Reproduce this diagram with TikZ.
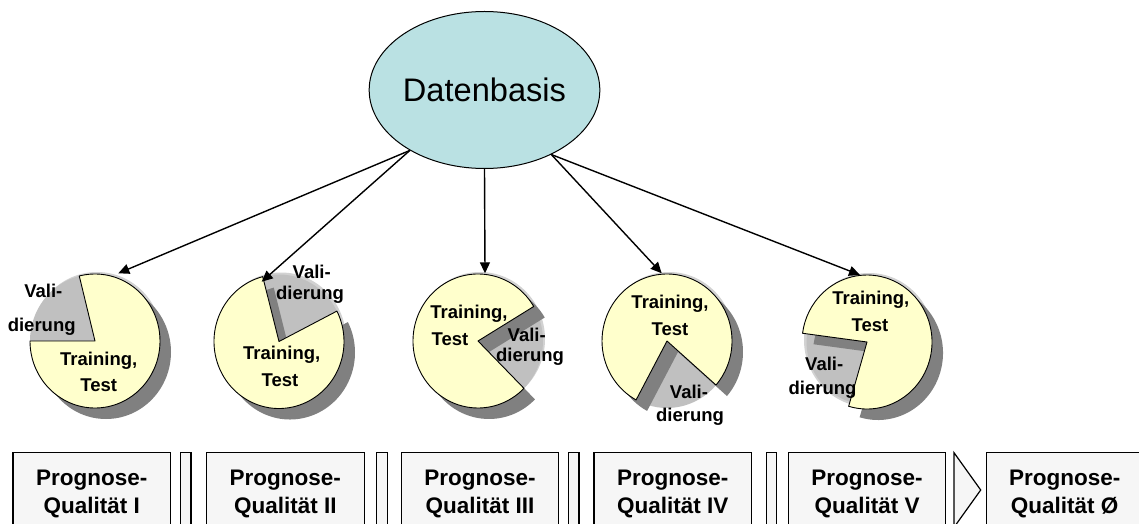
\documentclass[tikz,border=0pt]{standalone}
\usepackage{fontspec}
\setmainfont{Liberation Sans}
\usetikzlibrary{arrows.meta,shapes.geometric}

\definecolor{dbfill}{HTML}{BAE1E3}
\definecolor{trainfill}{HTML}{FFFFCC}
\definecolor{valfill}{HTML}{C0C0C0}
\definecolor{shadowgray}{HTML}{808080}
\definecolor{rimgray}{HTML}{D2D2D2}
\definecolor{boxfill}{HTML}{F6F6F6}

% Pie: #1,#2 centre; #3,#4 angles of the validation slice; #5 radius factor of that slice
\newcommand\drawpie[5]{%
  \begin{scope}[shift={(#1,#2)}]
    \fill[rimgray] (2,2) ellipse[x radius=65, y radius=67];
    \fill[valfill] (0,0) -- (#3:{65*#5} and {67*#5})
      arc[start angle=#3, end angle=#4, x radius={65*#5}, y radius={67*#5}] -- cycle;
    \fill[shadowgray] (11,-11) -- ++(#4:65 and 67)
      arc[start angle=#4, end angle={#3+360}, x radius=65, y radius=67] -- cycle;
    \filldraw[fill=trainfill, draw=black, line width=0.9pt, line join=round] (0,0) -- (#4:65 and 67)
      arc[start angle=#4, end angle={#3+360}, x radius=65, y radius=67] -- cycle;
  \end{scope}}

\tikzset{
  conn/.style={line width=1.4pt, -{Triangle[length=11pt,width=10pt]}},
  pietext/.style={font=\fontsize{18.5}{22}\selectfont\bfseries, inner sep=0pt},
  qbox/.style={draw, line width=1.2pt, fill=boxfill, minimum width=157.5, minimum height=83,
    inner sep=0pt, align=center, font=\fontsize{22.5}{28}\selectfont\bfseries},
  gapbar/.style={draw, line width=1.2pt, fill=boxfill, minimum width=10.7, minimum height=83, inner sep=0pt},
}

\begin{document}
\begin{tikzpicture}[x=1pt, y=1pt]
  \clip (0,0) rectangle (1139,523);
  \fill[white] (0,0) rectangle (1139,523);

  % data split pies
  \drawpie{95}{182}{104}{180}{1}
  \drawpie{279}{181.5}{27}{104.5}{1}
  \drawpie{478}{182}{-45}{31}{1}
  \drawpie{667}{182}{241.6}{318.9}{1}
  \drawpie{867}{181}{172.5}{253.6}{0.93}

  % pie labels
  \node[pietext] (v1a) at (43.3,232) {Vali-};
  \node[pietext] (v1b) at (41.7,196.3) {dierung};
  \node[pietext] (t1a) at (98.7,162.3) {Training,};
  \node[pietext] (t1b) at (98.7,138) {Test};

  \node[pietext] (v2a) at (311.7,251.3) {Vali-};
  \node[pietext] (v2b) at (310,228) {dierung};
  \node[pietext] (t2a) at (281.7,168) {Training,};
  \node[pietext] (t2b) at (280,143) {Test};

  \node[pietext] (t3a) at (469,209.7) {Training,};
  \node[pietext] (t3b) at (450,184) {Test};
  \node[pietext] (v3a) at (526.7,188) {Vali-};
  \node[pietext] (v3b) at (530,166.3) {dierung};

  \node[pietext] (t4a) at (670,219.7) {Training,};
  \node[pietext] (t4b) at (670,193.7) {Test};
  \node[pietext] (v4a) at (689,130.7) {Vali-};
  \node[pietext] (v4b) at (690,106.3) {dierung};

  \node[pietext] (t5a) at (870.8,223) {Training,};
  \node[pietext] (t5b) at (870,198) {Test};
  \node[pietext] (v5a) at (824.2,159) {Vali-};
  \node[pietext] (v5b) at (822.5,133) {dierung};

  % data base
  \node[ellipse, draw, line width=1pt, fill=dbfill, minimum width=189, minimum height=157,
        inner sep=0pt, font=\fontsize{32.6}{39}\selectfont] (db) at (484.5,433) {Datenbasis};

  % arrow targets on top of the pies
  \coordinate (p1) at (118.3,249.7);
  \coordinate (p2) at (261.7,241.3);
  \coordinate (p3) at (485,249.7);
  \coordinate (p4) at (661.7,249.7);
  \coordinate (p5) at (860,248);

  \draw[conn] (db.219.9) -- (p1);
  \draw[conn] (db.219.9) -- (p2);
  \draw[conn] (db.south) -- (p3);
  \draw[conn] (db.316.9) -- (p4);
  \draw[conn] (db.316.9) -- (p5);

  % forecast quality boxes
  \node[qbox] (q1) at (91.7,29) {Prognose-\\Qualität I};
  \node[gapbar] (g1) at (185.65,29) {};
  \node[qbox] (q2) at (285.35,29) {Prognose-\\Qualität II};
  \node[gapbar] (g2) at (382.2,29) {};
  \node[qbox] (q3) at (480,29) {Prognose-\\Qualität III};
  \node[gapbar] (g3) at (573.65,29) {};
  \node[qbox] (q4) at (672.65,29) {Prognose-\\Qualität IV};
  \node[gapbar] (g4) at (771.5,29) {};
  \node[qbox] (q5) at (867,29) {Prognose-\\Qualität V};
  \filldraw[fill=boxfill, draw=black, line width=1.2pt, line join=miter]
    (954,70.3) -- (980.7,33) -- (954,-4.3) -- cycle;
  \node[qbox, minimum width=156] (q6) at (1064.7,29) {Prognose-\\Qualität Ø};
\end{tikzpicture}
\end{document}
